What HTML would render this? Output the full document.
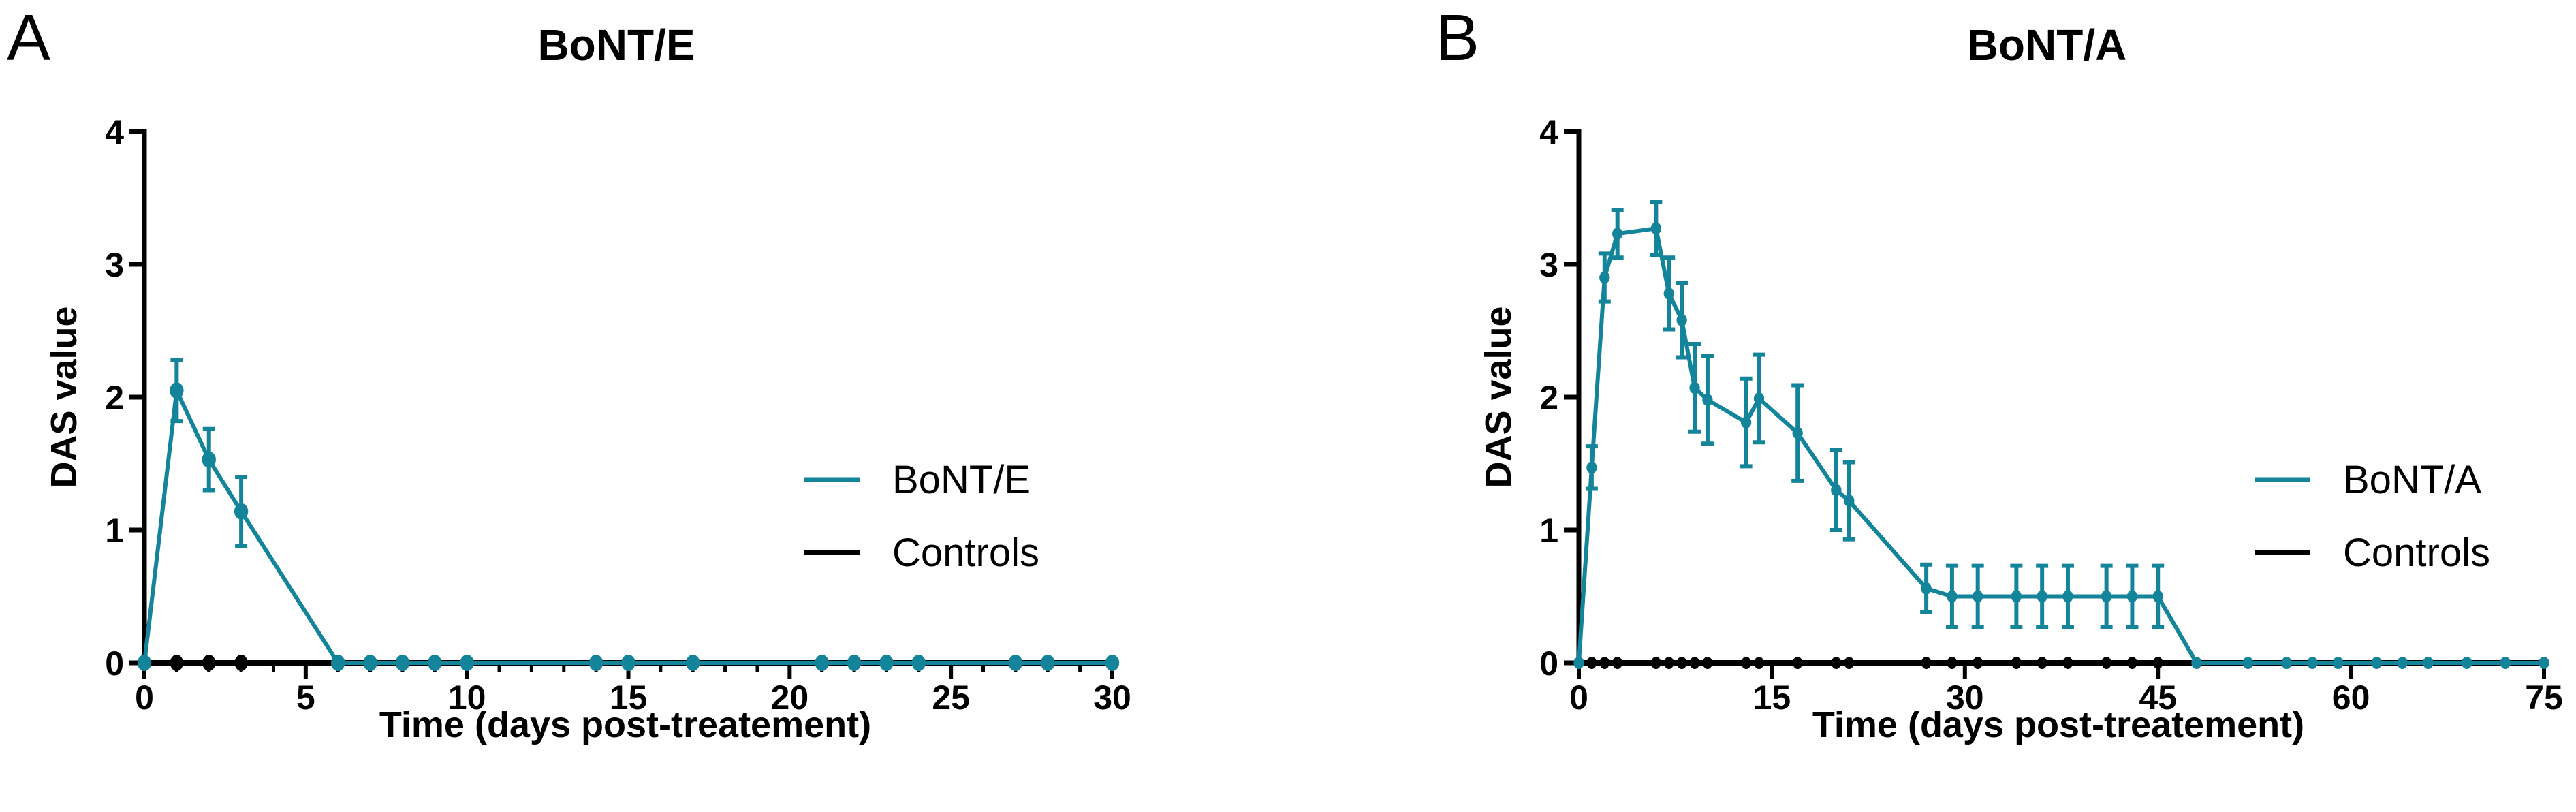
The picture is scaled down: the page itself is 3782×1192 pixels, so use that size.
<!DOCTYPE html>
<html><head><meta charset="utf-8">
<style>
html,body{margin:0;padding:0;background:#fff;}
svg{display:block;font-family:"Liberation Sans",Arial,sans-serif;}
</style></head>
<body>
<svg id="fig" width="3782" height="1192" viewBox="0 0 3782 1192" xmlns="http://www.w3.org/2000/svg">
<text x="10" y="88" font-size="96">A</text>
<text x="2108" y="88" font-size="96">B</text>
<text x="905" y="88" font-size="64" font-weight="bold" text-anchor="middle">BoNT/E</text>
<text x="3005" y="88" font-size="64" font-weight="bold" text-anchor="middle">BoNT/A</text>
<g id="panelA"></g>
<g id="panelB"></g>
</svg>
<script>
// Panel A data
const aDays = [0,1,2,3,6,7,8,9,10,14,15,17,21,22,23,24,27,28,30];
const aMeans = [0,2.05,1.53,1.14,0,0,0,0,0,0,0,0,0,0,0,0,0,0,0];
const aErr = [0,0.23,0.23,0.26,0,0,0,0,0,0,0,0,0,0,0,0,0,0,0];
const aCtrlDays = [0,1,2,3];
const aXTicks = [0,5,10,15,20,25,30];
// Panel B data
const bDays = [0,1,2,3,6,7,8,9,10,13,14,17,20,21,27,29,31,34,36,38,41,43,45,48,52,55,57,59,62,64,66,69,72,75];
const bMeans = [0,1.47,2.90,3.23,3.27,2.78,2.58,2.07,1.98,1.81,1.99,1.73,1.30,1.22,0.56,0.5,0.5,0.5,0.5,0.5,0.5,0.5,0.5,0,0,0,0,0,0,0,0,0,0,0];
const bErr = [0,0.16,0.18,0.18,0.2,0.27,0.28,0.33,0.33,0.33,0.33,0.36,0.3,0.29,0.18,0.23,0.23,0.23,0.23,0.23,0.23,0.23,0.23,0,0,0,0,0,0,0,0,0,0,0];
const bCtrlDays = [0,1,2,3,6,7,8,9,10,13,14,17,20,21,27,29,31,34,36,38,41,43,45];
const bXTicks = [0,15,30,45,60,75];
const yTicks = [0,1,2,3,4];

const NS = "http://www.w3.org/2000/svg";
const TEAL = "#13849a";
function mk(parent, tag, attrs){
  const e = document.createElementNS(NS, tag);
  for (const k in attrs) e.setAttribute(k, attrs[k]);
  parent.appendChild(e);
  return e;
}

function drawPanel(g, cfg){
  const xs = v => cfg.x0 + (v - cfg.xmin) / (cfg.xmax - cfg.xmin) * (cfg.x1 - cfg.x0);
  const ys = v => cfg.y0 - v / 4 * (cfg.y0 - cfg.y1);
  const ya = mk(g, 'line', {x1: cfg.x0, y1: ys(4)-3, x2: cfg.x0, y2: ys(0)+3, stroke: '#000', 'stroke-width': 7});
  
  
  yTicks.forEach(t => {
    const tk = mk(g, 'line', {x1: cfg.x0-22, y1: ys(t), x2: cfg.x0, y2: ys(t), stroke: '#000', 'stroke-width': 7});
    
    
    const tl = mk(g, 'text', {x: cfg.x0-30, y: ys(t)+18, 'font-size': 50, 'font-weight': 'bold', 'text-anchor': 'end'});
    tl.textContent = t;
    
    
  });
  const xa = mk(g, 'line', {x1: cfg.x0-3, y1: ys(0), x2: cfg.x1+3, y2: ys(0), stroke: '#000', 'stroke-width': 7});
  
  
  if (cfg.minor) {
    for (let m = cfg.xmin; m <= cfg.xmax; m += cfg.minor) {
      const mt = mk(g, 'line', {x1: xs(m), y1: ys(0), x2: xs(m), y2: ys(0)+14, stroke: '#000', 'stroke-width': 5});
      
      
    }
  }
  cfg.xTicks.forEach(t => {
    const tk = mk(g, 'line', {x1: xs(t), y1: ys(0), x2: xs(t), y2: ys(0)+24, stroke: '#000', 'stroke-width': 6});
    
    
    const tl = mk(g, 'text', {x: xs(t), y: ys(0)+68, 'font-size': 50, 'font-weight': 'bold', 'text-anchor': 'middle'});
    tl.textContent = t;
    
    
  });
  const xt = mk(g, 'text', {x: cfg.xtitleX, y: 1082, 'font-size': 54, 'font-weight': 'bold', 'text-anchor': 'middle'});
  xt.textContent = 'Time (days post-treatement)';
  
  
  const yt = mk(g, 'text', {x: 0, y: 0, 'font-size': 54, 'font-weight': 'bold', 'text-anchor': 'middle', transform: `translate(${cfg.x0-100},${ys(2)}) rotate(-90)`});
  yt.textContent = 'DAS value';
  
  

  const cl = mk(g, 'line', {x1: xs(0), y1: ys(0), x2: xs(cfg.xmax), y2: ys(0), stroke: '#000', 'stroke-width': 8});
  
  
  cfg.ctrl.forEach(d => {
    const c = mk(g, 'ellipse', {cx: xs(d), cy: ys(0), rx: cfg.r*0.8, ry: cfg.r, fill: '#000'});
    
    
  });
  const pts = cfg.days.map((d,i) => xs(d)+','+ys(cfg.means[i])).join(' ');
  const pl = mk(g, 'polyline', {points: pts, fill: 'none', stroke: TEAL, 'stroke-width': 6, 'stroke-linejoin': 'round'});
  
  
  cfg.days.forEach((d,i) => {
    const e = cfg.err[i];
    if (e > 0) {
      const x = xs(d), yl = ys(cfg.means[i]-e), yh = ys(cfg.means[i]+e);
      const eb = mk(g, 'path', {d: `M${x},${yl}V${yh}M${x-9},${yh}H${x+9}M${x-9},${yl}H${x+9}`, stroke: TEAL, 'stroke-width': 6, fill: 'none'});
      
      
    }
    const c = mk(g, 'ellipse', {cx: xs(d), cy: ys(cfg.means[i]), rx: cfg.r*0.85, ry: cfg.r, fill: TEAL});
    
    
  });
  const l1 = mk(g, 'line', {x1: cfg.legX, y1: 704, x2: cfg.legX+82, y2: 704, stroke: TEAL, 'stroke-width': 7});
  
  
  const t1 = mk(g, 'text', {x: cfg.legX+130, y: 724, 'font-size': 58});
  t1.textContent = cfg.name;
  
  
  const l2 = mk(g, 'line', {x1: cfg.legX, y1: 811, x2: cfg.legX+82, y2: 811, stroke: '#000', 'stroke-width': 7});
  
  
  const t2 = mk(g, 'text', {x: cfg.legX+130, y: 831, 'font-size': 58});
  t2.textContent = 'Controls';
  
  
}

drawPanel(document.getElementById('panelA'), {x0:212, x1:1633, xmin:0, xmax:30, y0:973, y1:193, xTicks:aXTicks, minor:1,
  days:aDays, means:aMeans, err:aErr, ctrl:aCtrlDays, r:12, name:'BoNT/E', legX:1180, xtitleX:918});
drawPanel(document.getElementById('panelB'), {x0:2318, x1:3735, xmin:0, xmax:75, y0:973, y1:193, xTicks:bXTicks, minor:0,
  days:bDays, means:bMeans, err:bErr, ctrl:bCtrlDays, r:9, name:'BoNT/A', legX:3310, xtitleX:3022});
</script>
</body></html>
